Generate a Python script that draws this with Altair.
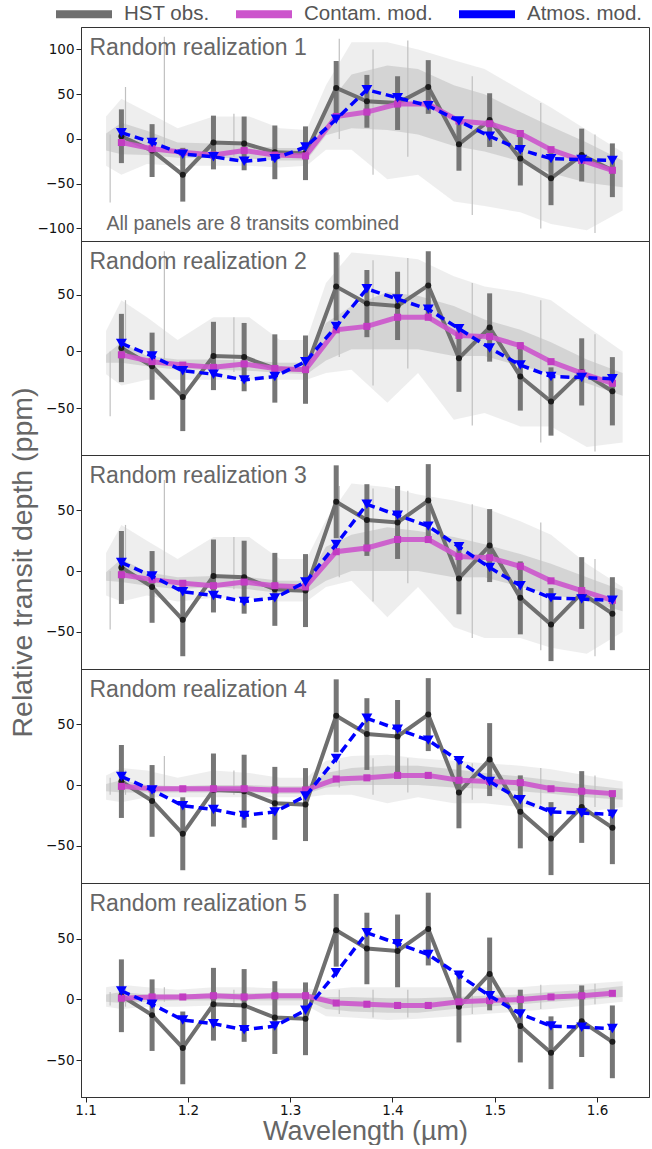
import altair as alt
import pandas as pd

# ---------------- data ----------------
SERIES = ["HST obs.", "Contam. mod.", "Atmos. mod."]
SERIES_COLORS = ["#6f6f6f", "#cc55cc", "#0000ff"]

PANEL_LABELS = ["Random realization 1", "Random realization 2", "Random realization 3",
                "Random realization 4", "Random realization 5"]
NOTE = ["All panels are 8 transits combined"]

WAVE_BIN = [1.135, 1.165, 1.195, 1.225, 1.255, 1.285, 1.315, 1.345, 1.375,
            1.405, 1.435, 1.465, 1.495, 1.525, 1.555, 1.585, 1.615]
HST_OBS = [3, -13, -40, -4, -5, -15, -16, 57, 42, 40, 58, -6, 21, -22, -44, -18, -35]
HST_ERR = [30, 29.5, 30, 30, 30, 30, 30, 30, 29.5, 30, 30, 29.5, 30, 30, 30, 29.5, 30]
ATMOS = [7, -4, -17, -20, -25, -22, -9, 22, 55, 46, 37, 20, 3, -12, -22, -23, -24]

CONTAM_1 = [-4, -11, -15, -18, -13, -18, -19, 25, 30, 39, 39, 20, 17, 6, -12, -24, -35]
CONTAM_2 = [-3, -9, -12, -14, -11, -15, -16, 19, 22, 30, 30, 14, 13, 5, -9, -19, -28]
CONTAM_3 = [-3, -7, -10, -12, -9, -12, -13, 16, 19, 26, 26, 12, 11, 4, -8, -16, -24]
CONTAM_4 = [-1, -3, -3, -3, -3, -4, -4, 5, 6, 8, 8, 4, 3, 2, -3, -5, -7]
CONTAM_5 = [1, 2, 2, 3, 2, 3, 3, -3, -4, -5, -5, -2, -1, 0, 2, 3, 5]

# grey high-resolution spectrum: dense core band and outer (spiky) envelope
SPEC_WAVE = [1.12, 1.135, 1.16, 1.19, 1.225, 1.26, 1.29, 1.316, 1.335, 1.36,
             1.395, 1.425, 1.46, 1.49, 1.525, 1.555, 1.59, 1.625]

CORE_HI_1 = [6, 18, 9, -4, -5, -8, -10, -10, 36, 72, 82, 78, 60, 50, 30, 14, -4, -24]
CORE_LO_1 = [-13, -17, -18, -21, -21, -22, -24, -24, 4, 12, 10, 5, -8, -14, -25, -38, -49, -54]
OUT_HI_1 = [25, 45, 30, 12, 25, 25, 12, 10, 60, 108, 108, 100, 88, 78, 55, 35, 10, -15]
OUT_LO_1 = [-30, -40, -28, -30, -30, -30, -32, -30, -12, -12, -45, -40, -70, -75, -82, -95, -102, -80]

CORE_HI_2 = [-3, 8, -4, -7, -7, -8, -10, -10, 25, 40, 52, 49, 40, 28, 19, 8, -7, -19]
CORE_LO_2 = [-10, -10, -13, -16, -16, -17, -19, -20, -8, 2, 2, 2, -4, -4, -13, -19, -28, -39]
OUT_HI_2 = [18, 45, 30, 10, 30, 30, 10, 10, 60, 87, 84, 81, 66, 57, 52, 45, 22, 0]
OUT_LO_2 = [-20, -30, -25, -25, -25, -25, -25, -25, -19, -16, -45, -19, -60, -54, -66, -66, -84, -80]

CORE_HI_3 = [-1, 10, -1, -5, -4, -5, -8, -8, 20, 30, 36, 33, 28, 22, 14, 6, -5, -16]
CORE_LO_3 = [-8, -9, -12, -15, -13, -15, -18, -18, -8, 0, 0, 0, -5, -5, -13, -19, -25, -33]
OUT_HI_3 = [15, 38, 25, 10, 28, 28, 10, 10, 42, 72, 69, 63, 58, 52, 41, 30, 6, -13]
OUT_LO_3 = [-20, -25, -20, -25, -22, -22, -25, -25, -13, -8, -38, -13, -46, -55, -55, -63, -68, -50]

CORE_HI_4 = [1, 4, 0, -1, 0, 0, -1, -1, 10, 14, 16, 16, 13, 10, 7, 4, 0, -3]
CORE_LO_4 = [-5, -6, -6, -6, -6, -6, -7, -7, -2, 0, 0, 0, -2, -3, -5, -7, -10, -12]
OUT_HI_4 = [8, 14, 12, 6, 12, 10, 6, 6, 20, 24, 25, 22, 20, 18, 16, 13, 8, 3]
OUT_LO_4 = [-12, -14, -10, -10, -10, -10, -10, -10, -8, -8, -15, -10, -15, -15, -18, -20, -22, -18]

CORE_HI_5 = [4, 6, 4, 4, 5, 5, 5, 5, 2, 2, 1, 1, 2, 3, 4, 6, 8, 11]
CORE_LO_5 = [-2, -3, -2, -1, -1, -1, -1, -1, -8, -10, -11, -11, -8, -6, -4, -2, 0, 2]
OUT_HI_5 = [10, 12, 10, 8, 10, 10, 9, 9, 8, 10, 10, 10, 10, 10, 10, 12, 13, 15]
OUT_LO_5 = [-6, -8, -6, -6, -5, -5, -5, -5, -14, -15, -17, -16, -14, -12, -10, -8, -5, -2]

SPIKE_WAVE = [1.124, 1.139, 1.177, 1.245, 1.348, 1.381, 1.415, 1.478, 1.545, 1.598]
SPIKE_LO_1 = [-71, -5, -10, -20, 0, -40, -20, -85, -100, -105]
SPIKE_HI_1 = [5, 58, 114, 28, 112, 100, 110, 70, 40, 5]
SPIKE_LO_2 = [-57, -5, -10, -18, -5, -30, -15, -65, -80, -88]
SPIKE_HI_2 = [0, 45, 88, 30, 85, 80, 82, 60, 45, 15]
SPIKE_LO_3 = [-48, -5, -8, -15, -5, -25, -10, -55, -65, -70]
SPIKE_HI_3 = [0, 38, 75, 28, 70, 68, 66, 55, 40, 10]
SPIKE_LO_4 = [-8, -8, -3, -8, -2, -8, -6, -12, -16, -18]
SPIKE_HI_4 = [6, 12, 24, 12, 20, 22, 22, 18, 14, 8]
SPIKE_LO_5 = [-5, -6, -2, -4, -12, -15, -15, -12, -8, -4]
SPIKE_HI_5 = [6, 9, 10, 8, 8, 8, 8, 10, 12, 13]

Y_DOMAINS = [[-114, 125], [-91, 97], [-80.5, 95.5], [-80.5, 95.5], [-80.5, 96]]
Y_TICKS = [[-100, -50, 0, 50, 100], [-50, 0, 50], [-50, 0, 50], [-50, 0, 50], [-50, 0, 50]]
X_DOMAIN = [1.0955, 1.6508]
X_TICKS = [1.1, 1.2, 1.3, 1.4, 1.5, 1.6]

W, H = 568, 214
LABEL_FONT = "Liberation Sans"
TICK_FONT = "DejaVu Sans"
GREY = "#6f6f6f"


def make_panel(i, contam, core_lo, core_hi, out_lo, out_hi, sp_lo, sp_hi):
    bins = pd.DataFrame({
        "wave": WAVE_BIN, "hst": HST_OBS,
        "lo": [o - e for o, e in zip(HST_OBS, HST_ERR)],
        "hi": [o + e for o, e in zip(HST_OBS, HST_ERR)],
        "contam": contam, "atmos": ATMOS,
    })
    spec = pd.DataFrame({"wave": SPEC_WAVE, "clo": core_lo, "chi": core_hi,
                         "olo": out_lo, "ohi": out_hi})
    spikes = pd.DataFrame({"wave": SPIKE_WAVE, "lo": sp_lo, "hi": sp_hi})

    bottom = (i == 4)
    xscale = alt.Scale(domain=X_DOMAIN, nice=False, zero=False)
    if bottom:
        xaxis = alt.Axis(values=X_TICKS, format=".1f", title="Wavelength (µm)",
                         labelFont=TICK_FONT, labelFontSize=13.5, labelColor="#111",
                         tickSize=5, tickColor="#222", labelPadding=1,
                         titleFont=LABEL_FONT, titleFontSize=27, titleColor="#666",
                         titleFontWeight="normal", titlePadding=2, grid=False,
                         domainColor="#333")
    else:
        xaxis = None
    x = alt.X("wave:Q", scale=xscale, axis=xaxis)

    yscale = alt.Scale(domain=Y_DOMAINS[i], nice=False, zero=False)
    yaxis_kw = dict(values=Y_TICKS[i], labelFont=TICK_FONT, labelFontSize=13.5,
                    labelColor="#111", tickSize=5, tickColor="#222", labelPadding=2,
                    grid=False, domainColor="#333", minExtent=40)
    if i == 2:
        yaxis = alt.Axis(title="Relative transit depth (ppm)", titleFont=LABEL_FONT,
                         titleFontSize=28.5, titleColor="#666", titleFontWeight="normal",
                         titleX=-50, titleBaseline="alphabetic", **yaxis_kw)
    else:
        yaxis = alt.Axis(title=None, **yaxis_kw)

    def Y(f):
        return alt.Y(f + ":Q", scale=yscale, axis=yaxis)

    outer = alt.Chart(spec).mark_area(color="#c8c8c8", opacity=0.3).encode(
        x=x, y=Y("olo"), y2="ohi")
    core = alt.Chart(spec).mark_area(color="#c6c6c6", opacity=0.65).encode(
        x=x, y=Y("clo"), y2="chi")
    spk = alt.Chart(spikes).mark_rule(color="#c0c0c0", strokeWidth=1.2).encode(
        x=x, y=Y("lo"), y2="hi")
    err = alt.Chart(bins).mark_rule(color=GREY, strokeWidth=5, opacity=0.95).encode(
        x=x, y=Y("lo"), y2="hi")
    hst_line = alt.Chart(bins).mark_line(color=GREY, strokeWidth=4).encode(x=x, y=Y("hst"))
    hst_pts = alt.Chart(bins).mark_circle(color="#1c1c1c", size=36, opacity=1).encode(
        x=x, y=Y("hst"))
    c_line = alt.Chart(bins).mark_line(color="#cc55cc", strokeWidth=5, opacity=0.9).encode(
        x=x, y=Y("contam"))
    c_pts = alt.Chart(bins).mark_square(color="#c23cc2", size=50, opacity=1).encode(
        x=x, y=Y("contam"))
    a_line = alt.Chart(bins).mark_line(color="#0000ff", strokeWidth=3.5,
                                       strokeDash=[9, 5]).encode(x=x, y=Y("atmos"))
    a_pts = alt.Chart(bins).mark_point(shape="triangle-down", filled=True, color="#0000ff",
                                       size=120, opacity=1).encode(x=x, y=Y("atmos"))
    label = alt.Chart(pd.DataFrame({"label": [PANEL_LABELS[i]]})).mark_text(
        align="left", baseline="alphabetic", font=LABEL_FONT, fontSize=23, color="#666"
    ).encode(text="label:N", x=alt.value(8.5), y=alt.value(28))

    layers = [outer, core, spk, err, hst_line, hst_pts, c_line, c_pts, a_line, a_pts, label]

    if i == 0:
        note = alt.Chart(pd.DataFrame({"note": NOTE})).mark_text(
            align="left", baseline="alphabetic", font=LABEL_FONT, fontSize=19.5, color="#666"
        ).encode(text="note:N", x=alt.value(25.5), y=alt.value(203))
        long = pd.DataFrame({"wave": [WAVE_BIN[0]] * 3, "val": [0, 0, 0], "series": SERIES})
        legend_layer = alt.Chart(long).transform_filter("false").mark_line(
            strokeWidth=8).encode(
            x=x, y=Y("val"),
            color=alt.Color("series:N", scale=alt.Scale(domain=SERIES, range=SERIES_COLORS),
                            legend=alt.Legend(orient="none", legendX=-29, legendY=-44.8,
                                              direction="horizontal", title=None,
                                              labelFont=LABEL_FONT, labelFontSize=20.5,
                                              labelColor="#555", symbolType="stroke",
                                              symbolSize=3136, symbolStrokeWidth=8,
                                              labelOffset=8, columnPadding=10,
                                              padding=0, symbolOpacity=1)))
        layers += [note, legend_layer]

    return alt.layer(*layers).properties(width=W, height=H)


panels = [
    make_panel(0, CONTAM_1, CORE_LO_1, CORE_HI_1, OUT_LO_1, OUT_HI_1, SPIKE_LO_1, SPIKE_HI_1),
    make_panel(1, CONTAM_2, CORE_LO_2, CORE_HI_2, OUT_LO_2, OUT_HI_2, SPIKE_LO_2, SPIKE_HI_2),
    make_panel(2, CONTAM_3, CORE_LO_3, CORE_HI_3, OUT_LO_3, OUT_HI_3, SPIKE_LO_3, SPIKE_HI_3),
    make_panel(3, CONTAM_4, CORE_LO_4, CORE_HI_4, OUT_LO_4, OUT_HI_4, SPIKE_LO_4, SPIKE_HI_4),
    make_panel(4, CONTAM_5, CORE_LO_5, CORE_HI_5, OUT_LO_5, OUT_HI_5, SPIKE_LO_5, SPIKE_HI_5),
]

chart = alt.vconcat(*panels, spacing=0, bounds="flush").resolve_scale(
    color="independent").configure(
    padding={"left": 7, "right": 0, "top": -19, "bottom": 0},
    background="white",
).configure_view(stroke="#333", strokeWidth=1)

chart.save("out.html", embed_options={"renderer": "svg", "actions": False})
